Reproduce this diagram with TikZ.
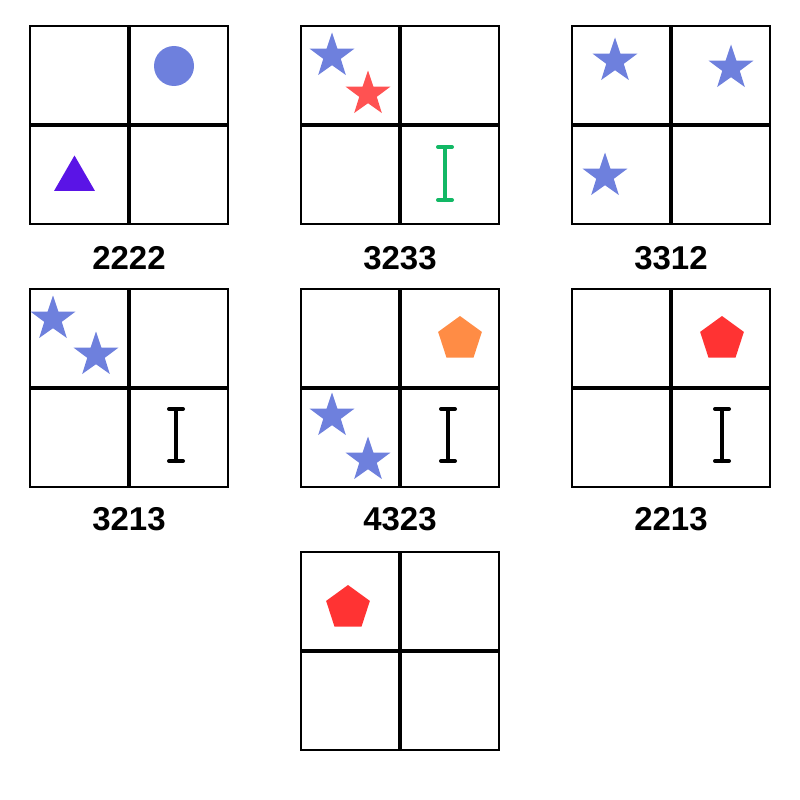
\documentclass[tikz,border=0pt]{standalone}
\usepackage{fontspec}
\setmainfont{Liberation Sans}
\usetikzlibrary{shapes.geometric}

\definecolor{starblue}{HTML}{6E80DD}
\definecolor{starred}{HTML}{FF5252}
\definecolor{pentred}{HTML}{FF3333}
\definecolor{pentorange}{HTML}{FF8C45}
\definecolor{beamgreen}{HTML}{12B865}
\definecolor{tripurple}{HTML}{5A14E6}

\begin{document}
\begin{tikzpicture}[
  x=1pt, y=-1pt,
  frame/.style={draw, line width=1.2pt},
  cross/.style={draw, line width=3.8pt},
  lbl/.style={font=\fontsize{33}{36}\selectfont\bfseries, inner sep=0pt},
  starmark/.style={star, star points=5, star point ratio=2.55, minimum size=47pt, inner sep=0pt, draw=none, fill=#1},
  pentmark/.style={regular polygon, regular polygon sides=5, minimum size=46pt, inner sep=0pt, draw=none, fill=#1},
  beam/.style={draw=#1, line width=4pt, line cap=round}
]
\useasboundingbox (0,0) rectangle (800,800);

% panel 2222
\draw[frame] (30,26) rectangle (228,224);
\draw[cross] (129,26) -- (129,224) (30,125) -- (228,125);
\node[circle, fill=starblue, minimum size=40pt, inner sep=0pt] (dot) at (174,66) {};
\node[regular polygon, regular polygon sides=3, minimum size=47pt, inner sep=0pt, fill=tripurple] (tri) at (74.5,179) {};
\node[lbl] (lab1) at (129,258) {2222};

% panel 3233
\draw[frame] (301,26) rectangle (499,224);
\draw[cross] (400,26) -- (400,224) (301,125) -- (499,125);
\node[starmark=starblue] (s2a) at (332,56) {};
\node[starmark=starred] (s2b) at (368,94) {};
\draw[beam=beamgreen] (445,147) -- (445,200) (438,147) -- (452,147) (438,200) -- (452,200);
\node[lbl] (lab2) at (400,258) {3233};

% panel 3312
\draw[frame] (572,26) rectangle (770,224);
\draw[cross] (671,26) -- (671,224) (572,125) -- (770,125);
\node[starmark=starblue] (s3a) at (615,61) {};
\node[starmark=starblue] (s3b) at (731,68) {};
\node[starmark=starblue] (s3c) at (605,176) {};
\node[lbl] (lab3) at (671,258) {3312};

% panel 3213
\draw[frame] (30,289) rectangle (228,487);
\draw[cross] (129,289) -- (129,487) (30,388) -- (228,388);
\node[starmark=starblue] (s4a) at (53,319) {};
\node[starmark=starblue] (s4b) at (96,355) {};
\draw[beam=black] (176,409) -- (176,461) (169,409) -- (183,409) (169,461) -- (183,461);
\node[lbl] (lab4) at (129,519) {3213};

% panel 4323
\draw[frame] (301,289) rectangle (499,487);
\draw[cross] (400,289) -- (400,487) (301,388) -- (499,388);
\node[pentmark=pentorange] (p5) at (460,339) {};
\node[starmark=starblue] (s5a) at (332,416) {};
\node[starmark=starblue] (s5b) at (368,460) {};
\draw[beam=black] (448,409) -- (448,461) (441,409) -- (455,409) (441,461) -- (455,461);
\node[lbl] (lab5) at (400,519) {4323};

% panel 2213
\draw[frame] (572,289) rectangle (770,487);
\draw[cross] (671,289) -- (671,487) (572,388) -- (770,388);
\node[pentmark=pentred] (p6) at (722,339) {};
\draw[beam=black] (722,409) -- (722,461) (715,409) -- (729,409) (715,461) -- (729,461);
\node[lbl] (lab6) at (671,519) {2213};

% last panel, no label
\draw[frame] (301,552) rectangle (499,750);
\draw[cross] (400,552) -- (400,750) (301,651) -- (499,651);
\node[pentmark=pentred] (p7) at (348,608) {};
\end{tikzpicture}
\end{document}
